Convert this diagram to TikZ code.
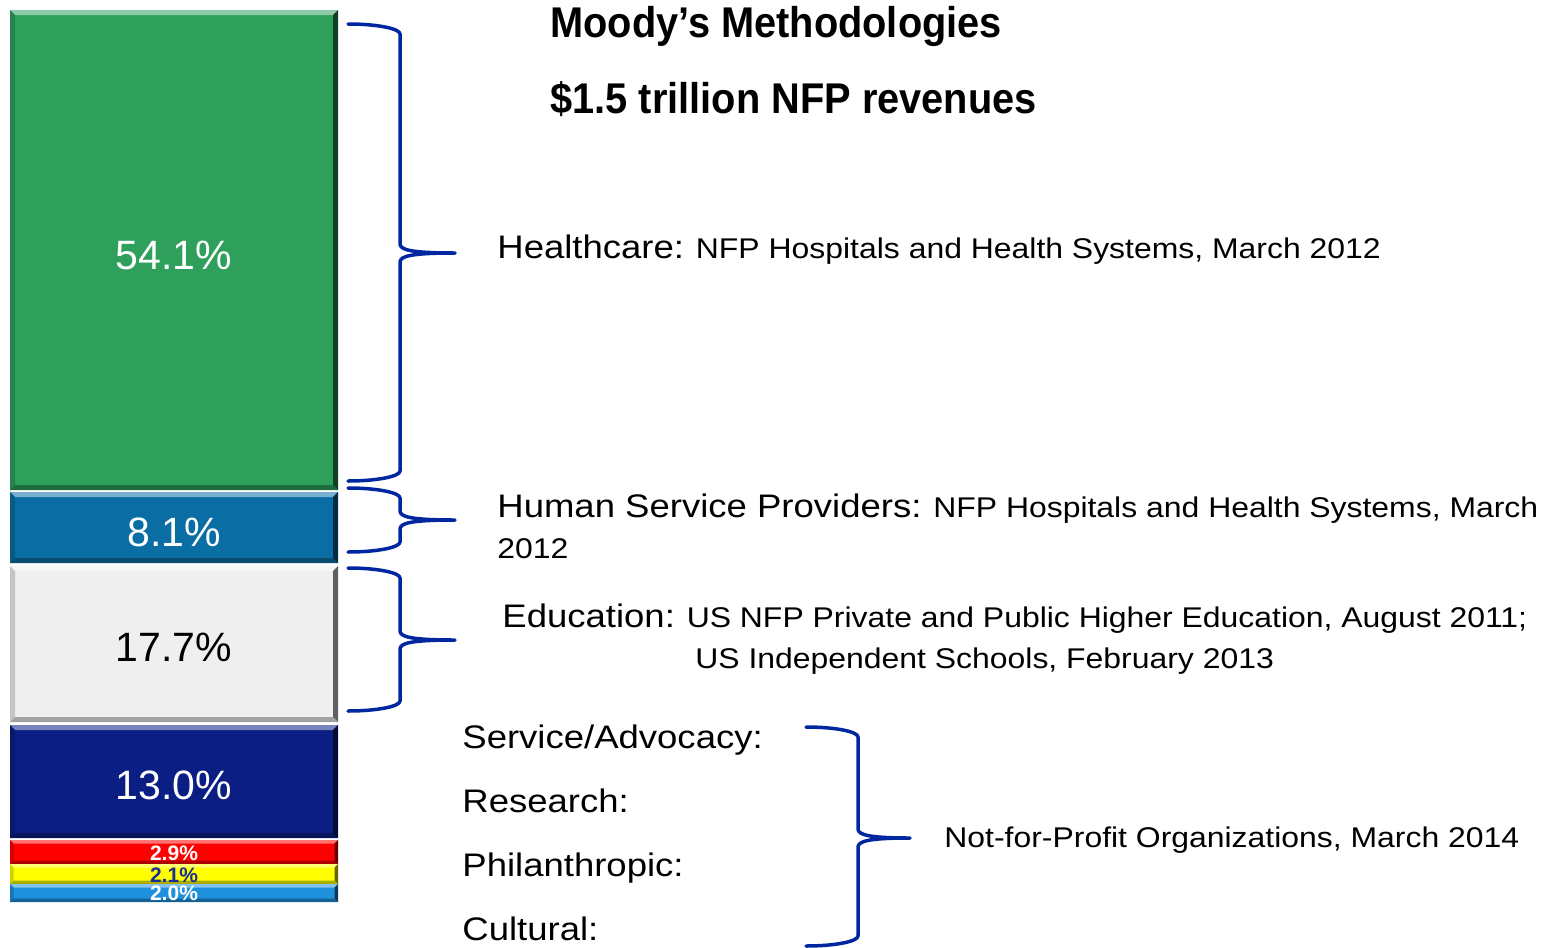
\documentclass[tikz,border=0pt]{standalone}
\usepackage{fontspec}
\setmainfont{Liberation Sans}
\newfontfamily\bodyfont[FakeStretch=1.12]{Liberation Sans}
\newfontfamily\titlefont[FakeStretch=0.925]{Liberation Sans Bold}
\definecolor{cgreen}{RGB}{46,160,92}
\definecolor{cblue}{RGB}{10,110,165}
\definecolor{cgray}{RGB}{239,239,239}
\definecolor{cnavy}{RGB}{10,30,132}
\definecolor{cred}{RGB}{255,0,0}
\definecolor{cyellow}{RGB}{255,255,0}
\definecolor{clblue}{RGB}{30,144,220}
\definecolor{cbrace}{RGB}{0,38,160}
\definecolor{clabnavy}{RGB}{26,46,154}
\newcommand\smtxt{\fontsize{14.25}{17}\selectfont}
% #1 x0 #2 y0 #3 x1 #4 y1 #5 colour #6 bevel depth
\newcommand\bevelbar[6]{%
  \fill[#5] (#1,#2) rectangle (#3,#4);
  \fill[#5!55!white] (#1,#2) -- (#3,#2) -- ({#3-#6},{#2+#6}) -- ({#1+#6},{#2+#6}) -- cycle;
  \fill[#5!82!black] (#1,#2) -- ({#1+#6},{#2+#6}) -- ({#1+#6},{#4-#6}) -- (#1,#4) -- cycle;
  \fill[#5!40!black] (#3,#2) -- (#3,#4) -- ({#3-#6},{#4-#6}) -- ({#3-#6},{#2+#6}) -- cycle;
  \fill[#5!68!black] (#1,#4) -- (#3,#4) -- ({#3-#6},{#4-#6}) -- ({#1+#6},{#4-#6}) -- cycle;
}
% #1 x0, #2 xv, #3 xt, #4 ytop, #5 ymid, #6 ybot
\newcommand\drawbrace[6]{%
  \draw[brc] (#1,#4) .. controls ({#1+0.552*(#2-#1)},#4) and (#2,{#4+4.5}) .. (#2,{#4+10})
    -- (#2,{#5-9}) .. controls (#2,{#5-3}) and ({#2+12},#5) .. (#3,#5)
    .. controls ({#2+12},#5) and (#2,{#5+3}) .. (#2,{#5+9})
    -- (#2,{#6-10}) .. controls (#2,{#6-4.5}) and ({#1+0.552*(#2-#1)},#6) .. (#1,#6);
}
\begin{document}
\begin{tikzpicture}[x=0.5pt,y=-0.5pt,
  brc/.style={draw=cbrace,line width=1.75pt,line cap=round,line join=round},
  pct/.style={inner sep=0,font=\fontsize{20.5}{24}\selectfont},
  spct/.style={inner sep=0,font=\bfseries\fontsize{10.5}{12}\selectfont},
  lab/.style={anchor=base west,inner sep=0,font=\bodyfont\fontsize{16.3}{19}\selectfont},
  ttl/.style={anchor=base west,inner sep=0,font=\titlefont\fontsize{21.5}{25}\selectfont}]
\useasboundingbox (0,0) rectangle (1564,948);
% bars
\bevelbar{10}{10}{338}{490}{cgreen}{5}
\bevelbar{10}{492}{338}{563}{cblue}{5}
\bevelbar{10}{566}{338}{722}{cgray}{5}
\bevelbar{10}{725}{338}{838}{cnavy}{5}
\bevelbar{10}{840}{338}{864}{cred}{3.5}
\bevelbar{10}{864}{338}{884}{cyellow}{3.5}
\bevelbar{10}{884}{338}{902}{clblue}{3.5}
% bar labels
\node[pct,text=white] (p1) at (174,255) {54.1\%};
\node[pct,text=white] (p2) at (174,532) {8.1\%};
\node[pct,text=black] (p3) at (174,647) {17.7\%};
\node[pct,text=white] (p4) at (174,785) {13.0\%};
\node[spct,text=white] (p5) at (174,853.5) {2.9\%};
\node[spct,text=clabnavy] (p6) at (174,875) {2.1\%};
\node[spct,text=white] (p7) at (174,893.5) {2.0\%};
% title
\node[ttl] (t1) at (550,37) {Moody’s Methodologies};
\node[ttl] (t2) at (550,113) {\$1.5 trillion NFP revenues};
% braces
\drawbrace{348}{400}{455}{24}{253}{481}
\drawbrace{348}{400}{455}{488}{520}{552}
\drawbrace{348}{400}{455}{568}{640}{711}
\drawbrace{806}{858}{910}{727}{838}{946}
% texts
\node[lab] (hc) at (497,258) {Healthcare:{\smtxt{} NFP Hospitals and Health Systems, March 2012}};
\node[lab] (hs1) at (497,517) {Human Service Providers:{\smtxt{} NFP Hospitals and Health Systems, March}};
\node[lab] (hs2) at (497,558) {\smtxt 2012};
\node[lab] (ed1) at (502,627) {Education:{\smtxt{} US NFP Private and Public Higher Education, August 2011;}};
\node[lab] (ed2) at (695,668) {\smtxt US Independent Schools, February 2013};
\node[lab] (sa) at (462,748) {Service/Advocacy:};
\node[lab] (rs) at (462,812) {Research:};
\node[lab] (ph) at (462,876) {Philanthropic:};
\node[lab] (cu) at (462,940) {Cultural:};
\node[lab] (np) at (944,847) {\smtxt Not-for-Profit Organizations, March 2014};
\end{tikzpicture}
\end{document}
